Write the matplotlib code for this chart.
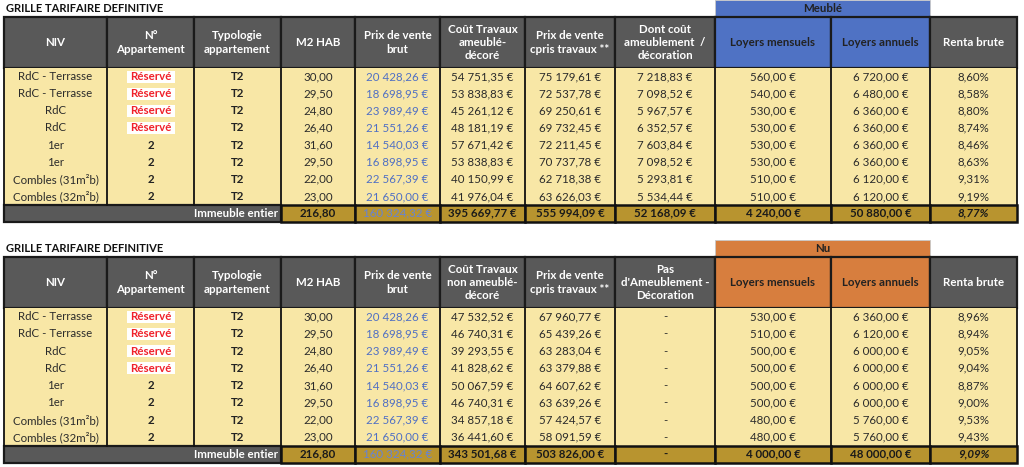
import matplotlib
matplotlib.use('Agg')
import matplotlib.pyplot as plt
from matplotlib.patches import Rectangle

plt.rcParams['font.family'] = ['Lato', 'DejaVu Sans']

# ---- donnees ----
niv = ['RdC - Terrasse', 'RdC - Terrasse', 'RdC', 'RdC', '1er', '1er',
       'Combles (31m²b)', 'Combles (32m²b)']
appart = ['Réservé', 'Réservé', 'Réservé', 'Réservé', '2', '2', '2', '2']
typo = ['T2', 'T2', 'T2', 'T2', 'T2', 'T2', 'T2', 'T2']
m2_hab = [30.00, 29.50, 24.80, 26.40, 31.60, 29.50, 22.00, 23.00]
prix_brut = [20428.26, 18698.95, 23989.49, 21551.26, 14540.03, 16898.95, 22567.39, 21650.00]

travaux_meuble = [54751.35, 53838.83, 45261.12, 48181.19, 57671.42, 53838.83, 40150.99, 41976.04]
prix_total_meuble = [75179.61, 72537.78, 69250.61, 69732.45, 72211.45, 70737.78, 62718.38, 63626.03]
ameublement = [7218.83, 7098.52, 5967.57, 6352.57, 7603.84, 7098.52, 5293.81, 5534.44]
loyer_m_meuble = [560, 540, 530, 530, 530, 530, 510, 510]
loyer_a_meuble = [6720, 6480, 6360, 6360, 6360, 6360, 6120, 6120]
renta_meuble = [8.60, 8.58, 8.80, 8.74, 8.46, 8.63, 9.31, 9.19]
total_meuble = [216.80, 160324.32, 395669.77, 555994.09, 52168.09, 4240.00, 50880.00, 8.77]

travaux_nu = [47532.52, 46740.31, 39293.55, 41828.62, 50067.59, 46740.31, 34857.18, 36441.60]
prix_total_nu = [67960.77, 65439.26, 63283.04, 63379.88, 64607.62, 63639.26, 57424.57, 58091.59]
loyer_m_nu = [530, 510, 500, 500, 500, 500, 480, 480]
loyer_a_nu = [6360, 6120, 6000, 6000, 6000, 6000, 5760, 5760]
renta_nu = [8.96, 8.94, 9.05, 9.04, 8.87, 9.00, 9.53, 9.43]
total_nu = [216.80, 160324.32, 343501.68, 503826.00, None, 4000.00, 48000.00, 9.09]

entetes_meuble = ['NIV', 'N°\nAppartement', 'Typologie\nappartement', 'M2 HAB',
                  'Prix de vente\nbrut', 'Coût Travaux\nameublé-\ndécoré',
                  'Prix de vente\ncpris travaux **', 'Dont coût\nameublement  /\ndécoration',
                  'Loyers mensuels', 'Loyers annuels', 'Renta brute']
entetes_nu = ['NIV', 'N°\nAppartement', 'Typologie\nappartement', 'M2 HAB',
              'Prix de vente\nbrut', 'Coût Travaux\nnon ameublé-\ndécoré',
              'Prix de vente\ncpris travaux **', "Pas\nd'Ameublement -\nDécoration",
              'Loyers mensuels', 'Loyers annuels', 'Renta brute']

# ---- mise en page ----
COLS = [4, 107, 194, 281, 355, 440, 525, 615, 715, 831, 930, 1017]
GRIS = '#595959'
JAUNE = '#F8E7A6'
OR = '#B8942F'
BLEU_TXT = '#4F6FC4'
TXT = '#2b2b2b'
FS = 8.3


def euro(v):
    return f"{v:,.2f}".replace(',', ' ').replace('.', ',') + ' €'


def nombre(v):
    return f"{v:.2f}".replace('.', ',')


def pct(v):
    return f"{v:.2f}".replace('.', ',') + '%'


def draw_table(ax, top, entetes, bande_txt, bande_col, travaux, prix_total, ameub,
               loyer_m, loyer_a, renta, totaux, row_h):
    # titre
    ax.text(6, top + 8, 'GRILLE TARIFAIRE DEFINITIVE', fontsize=8, fontweight='bold',
            color='#111111', va='center', ha='left')
    # bande Meublé / Nu
    ax.add_patch(Rectangle((COLS[8], top), COLS[10] - COLS[8], 17, facecolor=bande_col,
                           edgecolor='#c8c8c8', lw=0.6))
    ax.text((COLS[8] + COLS[10]) / 2, top + 8.5, bande_txt, fontsize=FS, fontweight='bold',
            color='#222222', ha='center', va='center')
    h_top, h_bot = top + 17, top + 68
    # entetes
    for i, t in enumerate(entetes):
        fc = bande_col if i in (8, 9) else GRIS
        ax.add_patch(Rectangle((COLS[i], h_top), COLS[i + 1] - COLS[i], h_bot - h_top,
                               facecolor=fc, edgecolor='#1a1a1a', lw=1.6))
        tc = '#222222' if i in (8, 9) else 'white'
        ax.text((COLS[i] + COLS[i + 1]) / 2, (h_top + h_bot) / 2, t, fontsize=FS,
                fontweight='bold', color=tc, ha='center', va='center', linespacing=1.25)
    # lignes de données
    d_top = h_bot
    d_bot = d_top + row_h * len(niv)
    ax.add_patch(Rectangle((COLS[0], d_top), COLS[-1] - COLS[0], d_bot - d_top,
                           facecolor=JAUNE, edgecolor='none'))
    for x in COLS:
        ax.plot([x, x], [d_top, d_bot], color='#111111', lw=1.3)
    cx = [(COLS[i] + COLS[i + 1]) / 2 for i in range(11)]
    for r in range(len(niv)):
        y = d_top + row_h * (r + 0.5)
        ax.text(cx[0], y, niv[r], fontsize=FS, color=TXT, ha='center', va='center')
        if appart[r] == 'Réservé':
            ax.add_patch(Rectangle((cx[1] - 24, y - 6), 48, 12, facecolor='white',
                                   edgecolor='none'))
            ax.text(cx[1], y, appart[r], fontsize=FS, fontweight='bold', color='#F0202A',
                    ha='center', va='center')
        else:
            ax.text(cx[1], y, appart[r], fontsize=FS, fontweight='bold', color='#222222',
                    ha='center', va='center')
        ax.text(cx[2], y, typo[r], fontsize=FS, fontweight='bold', color='#222222',
                ha='center', va='center')
        ax.text(cx[3], y, nombre(m2_hab[r]), fontsize=FS, color=TXT,
                ha='center', va='center')
        ax.text(cx[4], y, euro(prix_brut[r]), fontsize=FS, color=BLEU_TXT,
                ha='center', va='center')
        ax.text(cx[5], y, euro(travaux[r]), fontsize=FS, color=TXT,
                ha='center', va='center')
        ax.text(cx[6], y, euro(prix_total[r]), fontsize=FS, color=TXT,
                ha='center', va='center')
        ax.text(cx[7], y, euro(ameub[r]) if ameub is not None else '-', fontsize=FS,
                color=TXT, ha='center', va='center')
        ax.text(cx[8], y, euro(loyer_m[r]), fontsize=FS, color=TXT,
                ha='center', va='center')
        ax.text(cx[9], y, euro(loyer_a[r]), fontsize=FS, color=TXT,
                ha='center', va='center')
        ax.text(cx[10], y, pct(renta[r]), fontsize=FS, color=TXT,
                ha='center', va='center')
    # ligne total
    t_top, t_bot = d_bot, d_bot + 16.5
    ty = (t_top + t_bot) / 2
    ax.add_patch(Rectangle((COLS[0], t_top), COLS[3] - COLS[0], t_bot - t_top,
                           facecolor=GRIS, edgecolor='#1a1a1a', lw=1.6))
    ax.text(COLS[3] - 3, ty, 'Immeuble entier', fontsize=FS, fontweight='bold',
            color='white', ha='right', va='center')
    textes = [nombre(totaux[0]), euro(totaux[1]), euro(totaux[2]), euro(totaux[3]),
              euro(totaux[4]) if totaux[4] is not None else '-',
              euro(totaux[5]), euro(totaux[6]), pct(totaux[7])]
    for k, t in enumerate(textes):
        i = k + 3
        ax.add_patch(Rectangle((COLS[i], t_top), COLS[i + 1] - COLS[i], t_bot - t_top,
                               facecolor=OR, edgecolor='#111111', lw=1.8))
        if i == 4:
            ax.text(cx[i], ty, t, fontsize=FS, color='#6583D6',
                    ha='center', va='center')
        else:
            ax.text(cx[i], ty, t, fontsize=FS, fontweight='bold',
                    color='#1a1a1a', ha='center', va='center',
                    style='italic' if i == 10 else 'normal')


fig = plt.figure(figsize=(10.24, 4.67), dpi=100)
ax = fig.add_axes([0, 0, 1, 1])
ax.set_xlim(0, 1024)
ax.set_ylim(467, 0)
ax.axis('off')

draw_table(ax, 0, entetes_meuble, 'Meublé', '#4F72C4', travaux_meuble, prix_total_meuble,
           ameublement, loyer_m_meuble, loyer_a_meuble, renta_meuble, total_meuble, 17.125)
draw_table(ax, 240, entetes_nu, 'Nu', '#D77E3E', travaux_nu, prix_total_nu,
           None, loyer_m_nu, loyer_a_nu, renta_nu, total_nu, 17.25)

fig.savefig('out.png', dpi=100)
